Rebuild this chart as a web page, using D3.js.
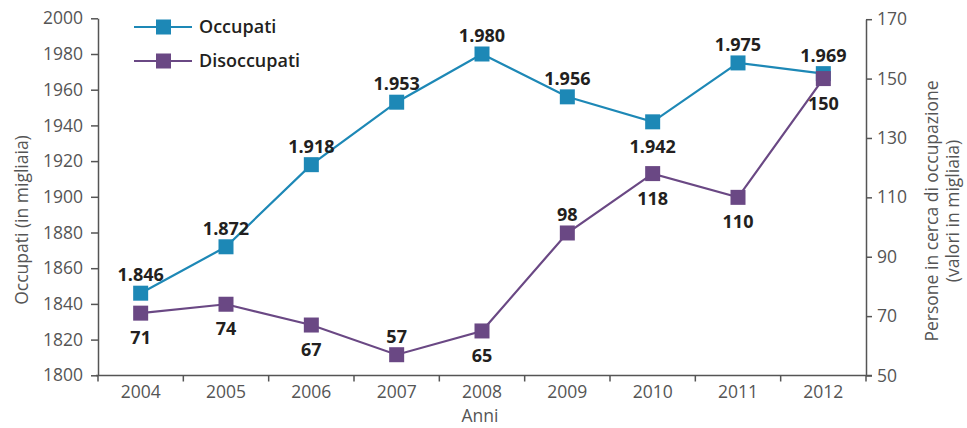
<!DOCTYPE html>
<html><head><meta charset="utf-8">
<script src="https://cdn.jsdelivr.net/npm/d3@7"></script>
<style>
body{margin:0;background:#fff;}
svg{display:block;font-family:"Open Sans",sans-serif;}
</style></head>
<body><svg id="c" width="967" height="428"></svg>
<script>
const years = ["2004","2005","2006","2007","2008","2009","2010","2011","2012"];
const occupati = [1846,1872,1918,1953,1980,1956,1942,1975,1969];
const disoccupati = [71,74,67,57,65,98,118,110,150];
const occLabels = ["1.846","1.872","1.918","1.953","1.980","1.956","1.942","1.975","1.969"];
const disLabels = ["71","74","67","57","65","98","118","110","150"];
const leftTicks = [1800,1820,1840,1860,1880,1900,1920,1940,1960,1980,2000];
const rightTicks = [50,70,90,110,130,150,170];
const occPlace = ["up","up","up","up","up","up","down","up","up"];
const disPlace = ["down","down","down","up","down","up","down","down","down"];

const blue = "#1d88b6", purple = "#6a4884", axisCol = "#555", textCol = "#555";
const svg = d3.select("#c");
const x = d3.scaleBand().domain(years).range([98, 866]).padding(0);
const yL = d3.scaleLinear().domain([1800, 2000]).range([375.3, 18.3]);
const yR = d3.scaleLinear().domain([50, 170]).range([375.5, 19.2]);

function styleAxis(g){
  g.selectAll(".domain").attr("stroke", axisCol).attr("stroke-width", 1.5);
  g.selectAll(".tick line").attr("stroke", axisCol).attr("stroke-width", 1.5);
  g.selectAll("text").attr("fill", textCol).attr("font-size", 17.5).attr("font-weight", 400).attr("font-family", "'Open Sans',sans-serif");
}
// left axis
svg.append("g").attr("transform", "translate(98,0)")
  .call(d3.axisLeft(yL).tickValues(leftTicks).tickFormat(d3.format("d")).tickSize(7).tickPadding(8).tickSizeOuter(0))
  .call(styleAxis);
// right axis
svg.append("g").attr("transform", "translate(866,0)")
  .call(d3.axisRight(yR).tickValues(rightTicks).tickSize(6).tickPadding(5).tickSizeOuter(0))
  .call(styleAxis);
// bottom axis
const gx = svg.append("g").attr("transform", "translate(0,375.5)")
  .call(d3.axisBottom(x).tickSize(0).tickPadding(10).tickSizeOuter(0))
  .call(styleAxis);
gx.selectAll(".domain").attr("d", "M96,0H872");
const bounds = d3.range(years.length + 1).map(i => x.range()[0] + i * x.step());
gx.selectAll("line.bt").data(bounds).enter().append("line").attr("class", "bt")
  .attr("x1", d => d).attr("x2", d => d).attr("y1", 0).attr("y2", 6)
  .attr("stroke", axisCol).attr("stroke-width", 1.5);

// axis titles
const titleFont = {size: 17.5, weight: 400};
svg.append("text").attr("x", 480).attr("y", 422).attr("text-anchor", "middle")
  .attr("font-size", titleFont.size).attr("font-weight", titleFont.weight).attr("fill", textCol).text("Anni");
svg.append("text").attr("transform", "translate(28,220) rotate(-90)").attr("text-anchor", "middle")
  .attr("font-size", titleFont.size).attr("font-weight", titleFont.weight).attr("fill", textCol).text("Occupati (in migliaia)");
svg.append("text").attr("transform", "translate(938,211) rotate(-90)").attr("text-anchor", "middle")
  .attr("font-size", titleFont.size).attr("font-weight", titleFont.weight).attr("fill", textCol).text("Persone in cerca di occupazione");
svg.append("text").attr("transform", "translate(959,211) rotate(-90)").attr("text-anchor", "middle")
  .attr("font-size", titleFont.size).attr("font-weight", titleFont.weight).attr("fill", textCol).text("(valori in migliaia)");

const cx = d => x(d) + x.bandwidth() / 2;
function series(vals, yS, color){
  const pts = years.map((yr, i) => [cx(yr), yS(vals[i])]);
  svg.append("path").attr("d", d3.line()(pts)).attr("fill", "none").attr("stroke", color).attr("stroke-width", 2.2);
  svg.selectAll(null).data(pts).enter().append("rect")
    .attr("x", d => d[0] - 7.5).attr("y", d => d[1] - 7.5).attr("width", 15).attr("height", 15).attr("fill", color);
  return pts;
}
const p1 = series(occupati, yL, blue);
const p2 = series(disoccupati, yR, purple);
function labelsFor(pts, labels, place){
  svg.selectAll(null).data(pts).enter().append("text")
    .attr("x", d => d[0]).attr("y", (d, i) => place[i] === "up" ? d[1] - 12 : d[1] + 31)
    .attr("text-anchor", "middle").attr("font-size", 18).attr("font-weight", 700).attr("fill", "#231f20")
    .text((d, i) => labels[i]);
}
labelsFor(p1, occLabels, occPlace);
labelsFor(p2, disLabels, disPlace);

// legend
const legend = [["Occupati", blue, 27], ["Disoccupati", purple, 61]];
legend.forEach(([name, col, ly]) => {
  svg.append("line").attr("x1", 134).attr("x2", 192).attr("y1", ly).attr("y2", ly).attr("stroke", col).attr("stroke-width", 2.2);
  svg.append("rect").attr("x", 156).attr("y", ly - 7.5).attr("width", 15).attr("height", 15).attr("fill", col);
  svg.append("text").attr("x", 199).attr("y", ly + 6).attr("font-size", 18).attr("font-weight", 600).attr("fill", "#231f20").text(name);
});
</script></body></html>
